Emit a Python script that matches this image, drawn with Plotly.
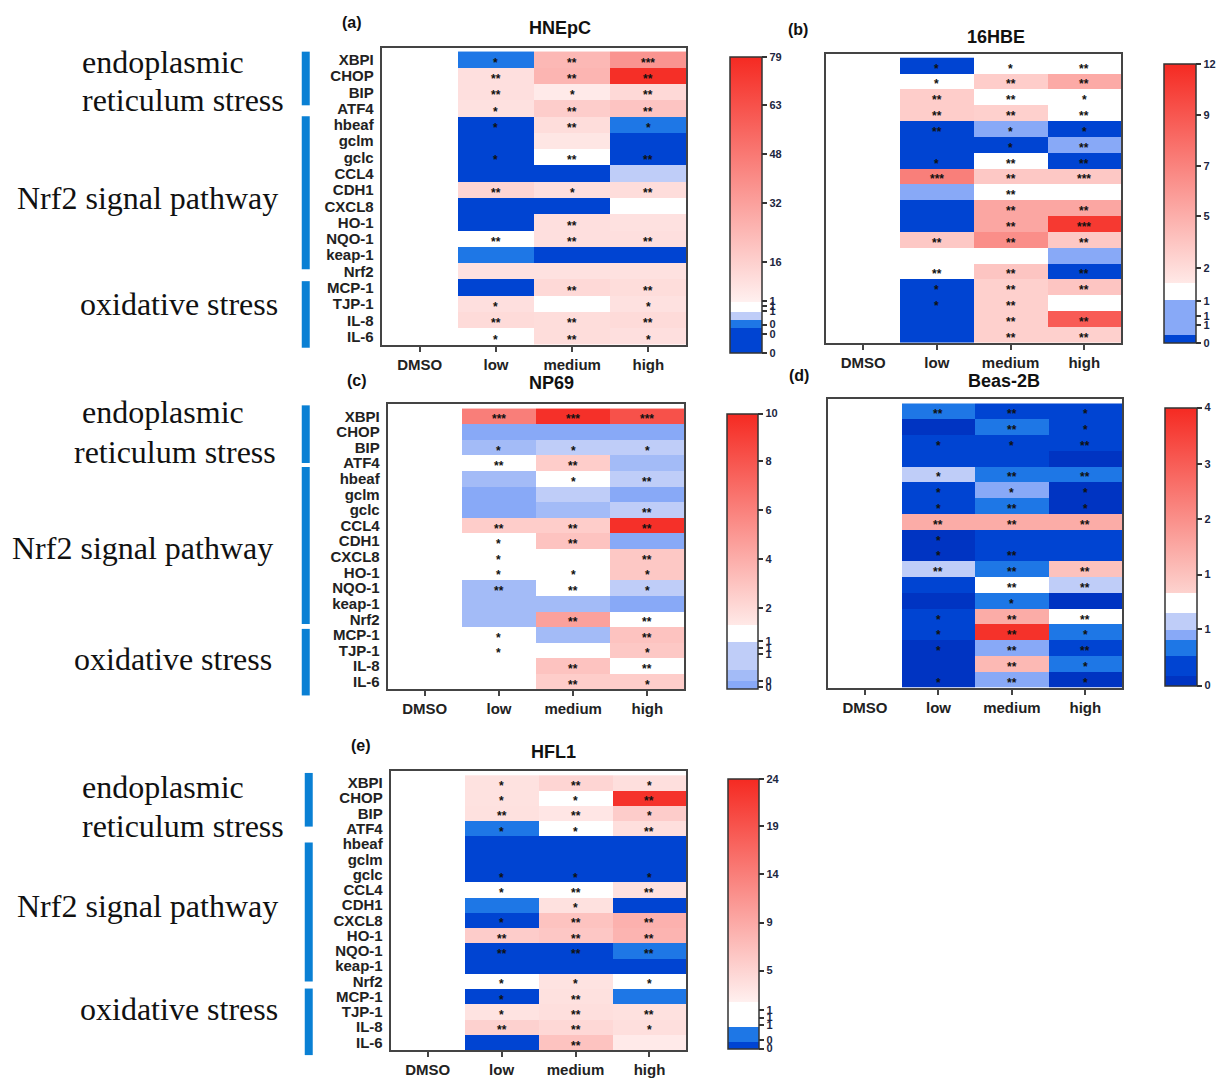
import numpy as np
import plotly.graph_objects as go

W, H = 1217, 1078

genes = ["XBPI", "CHOP", "BIP", "ATF4", "hbeaf", "gclm", "gclc", "CCL4", "CDH1",
         "CXCL8", "HO-1", "NQO-1", "keap-1", "Nrf2", "MCP-1", "TJP-1", "IL-8", "IL-6"]
groups = ["DMSO", "low", "medium", "high"]

# ---- fold-change values (DMSO, low, medium, high) ----
vals_a = [[1, 0.4, 24, 37], [1, 9, 25, 77], [1, 9, 4, 12], [1, 8, 17, 20],
          [1, 0.15, 10, 0.4], [1, 0.15, 6, 0.15], [1, 0.15, 1.0, 0.15], [1, 0.15, 0.15, 0.7],
          [1, 14, 9, 10], [1, 0.15, 0.15, 1.0], [1, 0.15, 9, 8], [1, 1.0, 9, 9],
          [1, 0.4, 0.15, 0.15], [1, 8, 8, 8], [1, 0.15, 12, 10], [1, 9, 1.0, 8],
          [1, 11, 10, 11], [1, 1.0, 10, 9]]
stars_a = [["", "*", "**", "***"], ["", "**", "**", "**"], ["", "**", "*", "**"], ["", "*", "**", "**"],
           ["", "*", "**", "*"], ["", "", "", ""], ["", "*", "**", "**"], ["", "", "", ""],
           ["", "**", "*", "**"], ["", "", "", ""], ["", "", "**", ""], ["", "**", "**", "**"],
           ["", "", "", ""], ["", "", "", ""], ["", "", "**", "**"], ["", "*", "", "*"],
           ["", "**", "**", "**"], ["", "*", "**", "*"]]

vals_b = [[1, 0.15, 1.0, 1.0], [1, 1.0, 3.0, 5.2], [1, 3.0, 1.0, 1.0], [1, 3.0, 2.8, 1.0],
          [1, 0.15, 0.6, 0.15], [1, 0.15, 0.15, 0.6], [1, 0.15, 1.0, 0.15], [1, 7.2, 3.3, 3.3],
          [1, 0.6, 1.0, 1.0], [1, 0.15, 5.4, 5.4], [1, 0.15, 5.4, 11], [1, 3.3, 6.5, 3.3],
          [1, 1.0, 1.0, 0.6], [1, 1.0, 3.5, 0.15], [1, 0.15, 2.8, 3.5], [1, 0.15, 2.8, 1.0],
          [1, 0.15, 2.8, 8.8], [1, 0.15, 2.8, 2.8]]
stars_b = [["", "*", "*", "**"], ["", "*", "**", "**"], ["", "**", "**", "*"], ["", "**", "**", "**"],
           ["", "**", "*", "*"], ["", "", "*", "**"], ["", "*", "**", "**"], ["", "***", "**", "***"],
           ["", "", "**", ""], ["", "", "**", "**"], ["", "", "**", "***"], ["", "**", "**", "**"],
           ["", "", "", ""], ["", "**", "**", "**"], ["", "*", "**", "**"], ["", "*", "**", ""],
           ["", "", "**", "**"], ["", "", "**", "**"]]

vals_c = [[1, 6.15, 9.7, 8.2], [1, 0.15, 0.15, 0.15], [1, 0.45, 0.8, 0.8], [1, 1.0, 2.6, 0.45],
          [1, 0.45, 1.0, 0.8], [1, 0.15, 0.8, 0.15], [1, 0.15, 0.45, 0.8], [1, 2.6, 2.6, 9.7],
          [1, 1.0, 3.05, 0.15], [1, 1.0, 1.0, 2.8], [1, 1.0, 1.0, 2.8], [1, 0.45, 1.0, 0.8],
          [1, 0.45, 0.45, 0.15], [1, 0.45, 4.6, 1.0], [1, 1.0, 0.45, 3.05], [1, 1.0, 1.0, 2.8],
          [1, 1.0, 3.05, 1.0], [1, 1.0, 2.6, 2.6]]
stars_c = [["", "***", "***", "***"], ["", "", "", ""], ["", "*", "*", "*"], ["", "**", "**", ""],
           ["", "", "*", "**"], ["", "", "", ""], ["", "", "", "**"], ["", "**", "**", "**"],
           ["", "*", "**", ""], ["", "*", "", "**"], ["", "*", "*", "*"], ["", "**", "**", "*"],
           ["", "", "", ""], ["", "", "**", "**"], ["", "*", "", "**"], ["", "*", "", "*"],
           ["", "", "**", "**"], ["", "", "**", "*"]]

vals_d = [[1, 0.5, 0.3, 0.2], [1, 0.15, 0.5, 0.3], [1, 0.3, 0.3, 0.3], [1, 0.3, 0.3, 0.15],
          [1, 0.83, 0.5, 0.5], [1, 0.3, 0.68, 0.15], [1, 0.3, 0.5, 0.15], [1, 1.77, 1.77, 1.77],
          [1, 0.15, 0.3, 0.3], [1, 0.15, 0.3, 0.3], [1, 0.83, 0.5, 1.4], [1, 0.3, 1.0, 0.83],
          [1, 0.15, 0.5, 0.15], [1, 0.3, 1.77, 1.0], [1, 0.3, 3.86, 0.5], [1, 0.15, 0.68, 0.3],
          [1, 0.15, 1.55, 0.5], [1, 0.15, 0.68, 0.15]]
stars_d = [["", "**", "**", "*"], ["", "", "**", "*"], ["", "*", "*", "**"], ["", "", "", ""],
           ["", "*", "**", "**"], ["", "*", "*", "*"], ["", "*", "**", "*"], ["", "**", "**", "**"],
           ["", "*", "", ""], ["", "*", "**", ""], ["", "**", "**", "**"], ["", "", "**", "**"],
           ["", "", "*", ""], ["", "*", "**", "**"], ["", "*", "**", "*"], ["", "*", "**", "**"],
           ["", "", "**", "*"], ["", "*", "**", "*"]]

vals_e = [[1, 3.1, 4.8, 3.5], [1, 3.1, 1.0, 23], [1, 3.3, 2.5, 5.7], [1, 0.55, 1.0, 3.5],
          [1, 0.15, 0.15, 0.15], [1, 0.15, 0.15, 0.15], [1, 0.15, 0.15, 0.15], [1, 1.0, 1.0, 3.3],
          [1, 0.55, 3.3, 0.15], [1, 0.15, 6.6, 8.3], [1, 5.7, 6.2, 8.0], [1, 0.15, 0.15, 0.55],
          [1, 0.15, 0.15, 0.15], [1, 1.0, 3.0, 1.0], [1, 0.15, 3.3, 0.55], [1, 3.0, 3.5, 3.3],
          [1, 5.3, 4.5, 3.5], [1, 0.15, 6.6, 2.0]]
stars_e = [["", "*", "**", "*"], ["", "*", "*", "**"], ["", "**", "**", "*"], ["", "*", "*", "**"],
           ["", "", "", ""], ["", "", "", ""], ["", "*", "*", "*"], ["", "*", "**", "**"],
           ["", "", "*", ""], ["", "*", "**", "**"], ["", "**", "**", "**"], ["", "**", "**", "**"],
           ["", "", "", ""], ["", "*", "*", "*"], ["", "*", "**", ""], ["", "*", "**", "**"],
           ["", "**", "**", "*"], ["", "", "**", ""]]

titles = ["HNEpC", "16HBE", "NP69", "Beas-2B", "HFL1"]
panel_tags = ["(a)", "(b)", "(c)", "(d)", "(e)"]

# colour-key breakpoints: fold-change value -> position on the key
key_vals_a = [0, 0.3, 0.5, 0.8, 1.1, 16, 32, 48, 63, 79]
key_vals_b = [0, 0.3, 0.9, 1.1, 2, 5, 7, 9, 12]
key_vals_c = [0, 0.3, 0.6, 0.9, 1.1, 2, 4, 6, 8, 10]
key_vals_d = [0, 0.2, 0.4, 0.6, 0.75, 0.9, 1.1, 4]
key_vals_e = [0, 0.3, 0.8, 1.2, 5, 9, 14, 19, 24]
key_labels_a = ["79", "63", "48", "32", "16", "1", "1", "1", "0", "0", "0"]
key_labels_b = ["12", "9", "7", "5", "2", "1", "1", "1", "0"]
key_labels_c = ["10", "8", "6", "4", "2", "1", "1", "1", "0", "0"]
key_labels_d = ["4", "3", "2", "1", "1", "0"]
key_labels_e = ["24", "19", "14", "9", "5", "1", "1", "1", "0", "0"]

group_texts = [["endoplasmic", "reticulum stress"], ["Nrf2 signal pathway"], ["oxidative stress"]]

# ---------------- styling / layout ----------------
DB, DDB, MB, LMB, LB = "#0044d2", "#0034c2", "#1e77e6", "#88a9f7", "#bfcdf8"
RED = "#f52a22"
key_pos = {
    "a": [0, 0.084, 0.112, 0.14, 0.173, 0.305, 0.506, 0.67, 0.838, 1.0],
    "b": [0, 0.03, 0.154, 0.214, 0.269, 0.454, 0.632, 0.816, 1.0],
    "c": [0, 0.03, 0.07, 0.172, 0.233, 0.293, 0.47, 0.649, 0.827, 1.0],
    "d": [0, 0.036, 0.107, 0.167, 0.202, 0.262, 0.333, 1.0],
    "e": [0, 0.027, 0.082, 0.174, 0.291, 0.469, 0.647, 0.825, 1.0],
}
tick_pos = {
    "a": [1.0, 0.838, 0.67, 0.506, 0.305, 0.173, 0.157, 0.14, 0.095, 0.062, 0.0],
    "b": [1.0, 0.816, 0.632, 0.454, 0.269, 0.148, 0.097, 0.063, 0.0],
    "c": [1.0, 0.827, 0.649, 0.47, 0.293, 0.172, 0.148, 0.124, 0.028, 0.004],
    "d": [1.0, 0.798, 0.598, 0.399, 0.202, 0.0],
    "e": [1.0, 0.825, 0.647, 0.469, 0.291, 0.144, 0.117, 0.088, 0.033, 0.002],
}
cscales = {
    "a": [[0, DB], [0.084, DB], [0.084, MB], [0.112, MB], [0.112, LB], [0.14, LB],
          [0.14, "#ffffff"], [0.173, "#ffffff"], [0.173, "#fff0ef"], [1, RED]],
    "b": [[0, DB], [0.03, DB], [0.03, LMB], [0.154, LMB], [0.154, "#ffffff"], [0.214, "#ffffff"],
          [0.214, "#ffe9e7"], [1, RED]],
    "c": [[0, "#88a9f7"], [0.03, "#88a9f7"], [0.03, "#a3bbf7"], [0.07, "#a3bbf7"], [0.07, LB],
          [0.172, LB], [0.172, "#ffffff"], [0.233, "#ffffff"], [0.233, "#ffe9e7"], [1, RED]],
    "d": [[0, DDB], [0.036, DDB], [0.036, DB], [0.107, DB], [0.107, MB], [0.167, MB],
          [0.167, LMB], [0.202, LMB], [0.202, LB], [0.262, LB], [0.262, "#ffffff"],
          [0.333, "#ffffff"], [0.333, "#fdd3cf"], [1, RED]],
    "e": [[0, DB], [0.027, DB], [0.027, MB], [0.082, MB], [0.082, "#ffffff"], [0.174, "#ffffff"],
          [0.174, "#fff0ef"], [1, RED]],
}
# pixel boxes: plot (l, r, t, b), key (l, r, t, b), title (x, y), tag (x, y)
geom = {
    "a": dict(plot=(382, 687, 48, 347), key=(731, 763, 57, 355), title=(560, 28), tag=(352, 23), ylab=True),
    "b": dict(plot=(827, 1122, 54, 345), key=(1165, 1197, 64, 345), title=(997, 37), tag=(799, 30), ylab=False),
    "c": dict(plot=(388, 685, 407, 694), key=(728, 759, 416, 693), title=(552, 386), tag=(357, 383), ylab=True),
    "d": dict(plot=(829, 1123, 402, 692), key=(1166, 1198, 410, 690), title=(1005, 383), tag=(800, 378), ylab=False),
    "e": dict(plot=(391, 687, 776, 1057), key=(729, 760, 784, 1056), title=(554, 757), tag=(361, 750), ylab=True),
}

panels = [
    ("a", vals_a, stars_a, key_vals_a, key_labels_a),
    ("b", vals_b, stars_b, key_vals_b, key_labels_b),
    ("c", vals_c, stars_c, key_vals_c, key_labels_c),
    ("d", vals_d, stars_d, key_vals_d, key_labels_d),
    ("e", vals_e, stars_e, key_vals_e, key_labels_e),
]

SANS = "Liberation Sans, Arial, sans-serif"
SERIF = "Liberation Serif, Times New Roman, serif"

fig = go.Figure()
annotations = []
shapes = []
layout_axes = {}

def px_x(x):
    return x / W

def px_y(y):
    return 1 - y / H

for i, (k, vals, stars, kv, kl) in enumerate(panels):
    n = i + 1
    g = geom[k]
    v = np.array(vals, dtype=float)
    zpos = np.interp(v, kv, key_pos[k])
    kl_, kr, kt, kb = g["key"]
    fig.add_trace(go.Heatmap(
        z=zpos, x=groups, y=genes, customdata=v,
        hovertemplate="%{y} / %{x}: %{customdata}<extra></extra>",
        colorscale=cscales[k], zmin=0, zmax=1,
        xaxis=f"x{n}", yaxis=f"y{n}",
        colorbar=dict(
            x=px_x(kl_), xanchor="left", xpad=0, ypad=0,
            y=px_y(kb), yanchor="bottom", len=(kb - kt) / H, lenmode="fraction",
            thickness=kr - kl_, outlinecolor="#333", outlinewidth=1.5,
            tickmode="array", tickvals=tick_pos[k], ticktext=kl,
            ticks="outside", ticklen=5, tickcolor="#333", tickwidth=1.5,
            tickfont=dict(family=SANS, size=11, color="#1c2640", weight="bold"),
        ),
    ))
    pl, pr, pt, pb = g["plot"]
    layout_axes[f"xaxis{n}"] = dict(
        domain=[px_x(pl), px_x(pr)], anchor=f"y{n}", showline=True, mirror=True,
        linecolor="#444", linewidth=2, ticks="outside", ticklen=5, tickcolor="#444",
        tickwidth=2, showgrid=False, zeroline=False, fixedrange=True,
        tickmode="array", tickvals=groups, ticktext=groups,
        tickfont=dict(family=SANS, size=15, color="#222", weight="bold"),
    )
    layout_axes[f"yaxis{n}"] = dict(
        domain=[px_y(pb), px_y(pt)], anchor=f"x{n}", showline=True, mirror=True,
        linecolor="#444", linewidth=2, ticks="", showgrid=False, zeroline=False,
        autorange="reversed", showticklabels=g["ylab"], ticklabelstandoff=3,
        tickmode="array", tickvals=genes, ticktext=genes,
        tickfont=dict(family=SANS, size=15, color="#222", weight="bold"), fixedrange=True,
    )
    for r, gene in enumerate(genes):
        for c, grp in enumerate(groups):
            s = stars[r][c]
            if s:
                annotations.append(dict(
                    x=grp, y=gene, xref=f"x{n}", yref=f"y{n}", text=s, showarrow=False,
                    yshift=-3, font=dict(family=SANS, size=12, color="#111", weight="bold")))
    annotations.append(dict(x=px_x(g["title"][0]), y=px_y(g["title"][1]), xref="paper", yref="paper",
                            text=titles[i], showarrow=False, xanchor="center", yanchor="middle",
                            font=dict(family=SANS, size=18, color="#111", weight="bold")))
    annotations.append(dict(x=px_x(g["tag"][0]), y=px_y(g["tag"][1]), xref="paper", yref="paper",
                            text=panel_tags[i], showarrow=False, xanchor="center", yanchor="middle",
                            font=dict(family=SANS, size=16, color="#111", weight="bold")))

# left-side pathway group labels and bars (panels a, c, e)
side = [
    dict(texts=[(80, 62), (80, 101), (15, 199), (78, 306)],
         bars=[(52, 106), (117, 271), (283, 350)], bx=(302, 310)),
    dict(texts=[(80, 415), (72, 455), (10, 552), (72, 663)],
         bars=[(408, 466), (470, 628), (633, 700)], bx=(302, 310)),
    dict(texts=[(80, 792), (80, 831), (15, 912), (78, 1016)],
         bars=[(778, 832), (848, 988), (995, 1062)], bx=(305, 313)),
]
flat_texts = [t for grp in group_texts for t in grp]
for sd in side:
    for txt, (tx, ty) in zip(flat_texts, sd["texts"]):
        annotations.append(dict(x=px_x(tx), y=px_y(ty), xref="paper", yref="paper", text=txt,
                                showarrow=False, xanchor="left", yanchor="middle",
                                font=dict(family=SERIF, size=32, color="#111")))
    for (y0, y1) in sd["bars"]:
        shapes.append(dict(type="rect", xref="paper", yref="paper",
                           x0=px_x(sd["bx"][0]), x1=px_x(sd["bx"][1]),
                           y0=px_y(y1), y1=px_y(y0), fillcolor="#0a80d4", line=dict(width=0)))

fig.update_layout(
    width=W, height=H, margin=dict(l=0, r=0, t=0, b=0),
    paper_bgcolor="white", plot_bgcolor="white", showlegend=False,
    annotations=annotations, shapes=shapes, **layout_axes,
)
fig.write_html("out.html")
